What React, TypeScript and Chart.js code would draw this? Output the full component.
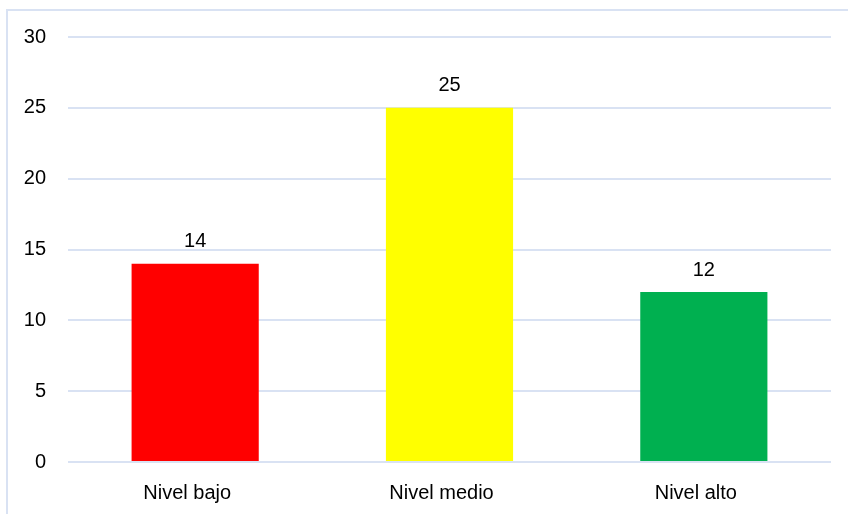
import React, { useEffect, useRef } from "react";
import { Chart, registerables } from "chart.js";

Chart.register(...registerables);

const categories = ["Nivel bajo", "Nivel medio", "Nivel alto"];
const values = [14, 25, 12];
const barColors = ["#FF0000", "#FFFF00", "#00B050"];
const yMin = 0;
const yMax = 30;
const yStep = 5;

const FONT = "'Liberation Sans', Arial, sans-serif";
const SIZE = 20;

const valueLabels = {
  id: "valueLabels",
  afterDatasetsDraw(chart: any) {
    const ctx = chart.ctx;
    const meta = chart.getDatasetMeta(0);
    ctx.save();
    ctx.font = `${SIZE}px ${FONT}`;
    ctx.fillStyle = "#000";
    ctx.textAlign = "center";
    ctx.textBaseline = "middle";
    meta.data.forEach((el: any, i: number) => {
      ctx.fillText(String(values[i]), el.x, el.y - 22);
    });
    ctx.restore();
  },
};

export default function App() {
  const ref = useRef<HTMLCanvasElement | null>(null);
  useEffect(() => {
    if (!ref.current) return;
    const chart = new Chart(ref.current, {
      type: "bar",
      data: {
        labels: categories,
        datasets: [
          {
            data: values,
            backgroundColor: barColors,
            barPercentage: 0.5,
            categoryPercentage: 1,
          },
        ],
      },
      options: {
        animation: false,
        responsive: false,
        maintainAspectRatio: false,
        layout: { padding: { left: 0, right: 17, top: 37, bottom: 0 } },
        plugins: { legend: { display: false }, tooltip: { enabled: false } },
        scales: {
          x: {
            grid: { display: false, drawTicks: false },
            border: { display: false },
            ticks: {
              color: "#000",
              font: { family: FONT, size: SIZE },
              padding: 19,
              labelOffset: -8,
            },
            afterFit(scale: any) {
              scale.height = 52;
            },
          },
          y: {
            min: yMin,
            max: yMax,
            grid: { color: "#D9E2F3", lineWidth: 2, drawTicks: false },
            border: { display: false },
            ticks: {
              stepSize: yStep,
              color: "#000",
              font: { family: FONT, size: SIZE },
              padding: 22,
            },
            afterFit(scale: any) {
              scale.width = 68;
            },
          },
        },
      },
      plugins: [valueLabels],
    });
    return () => chart.destroy();
  }, []);
  return (
    <div style={{ position: "fixed", left: 0, top: 0, width: 848, height: 514, background: "#fff", overflow: "hidden" }}>
      <div
        style={{
          position: "absolute",
          left: 6,
          top: 9,
          width: 900,
          height: 600,
          border: "2px solid #D9E2F3",
          boxSizing: "border-box",
        }}
      />
      <canvas ref={ref} width={848} height={514} style={{ position: "absolute", left: 0, top: 0 }} />
    </div>
  );
}
